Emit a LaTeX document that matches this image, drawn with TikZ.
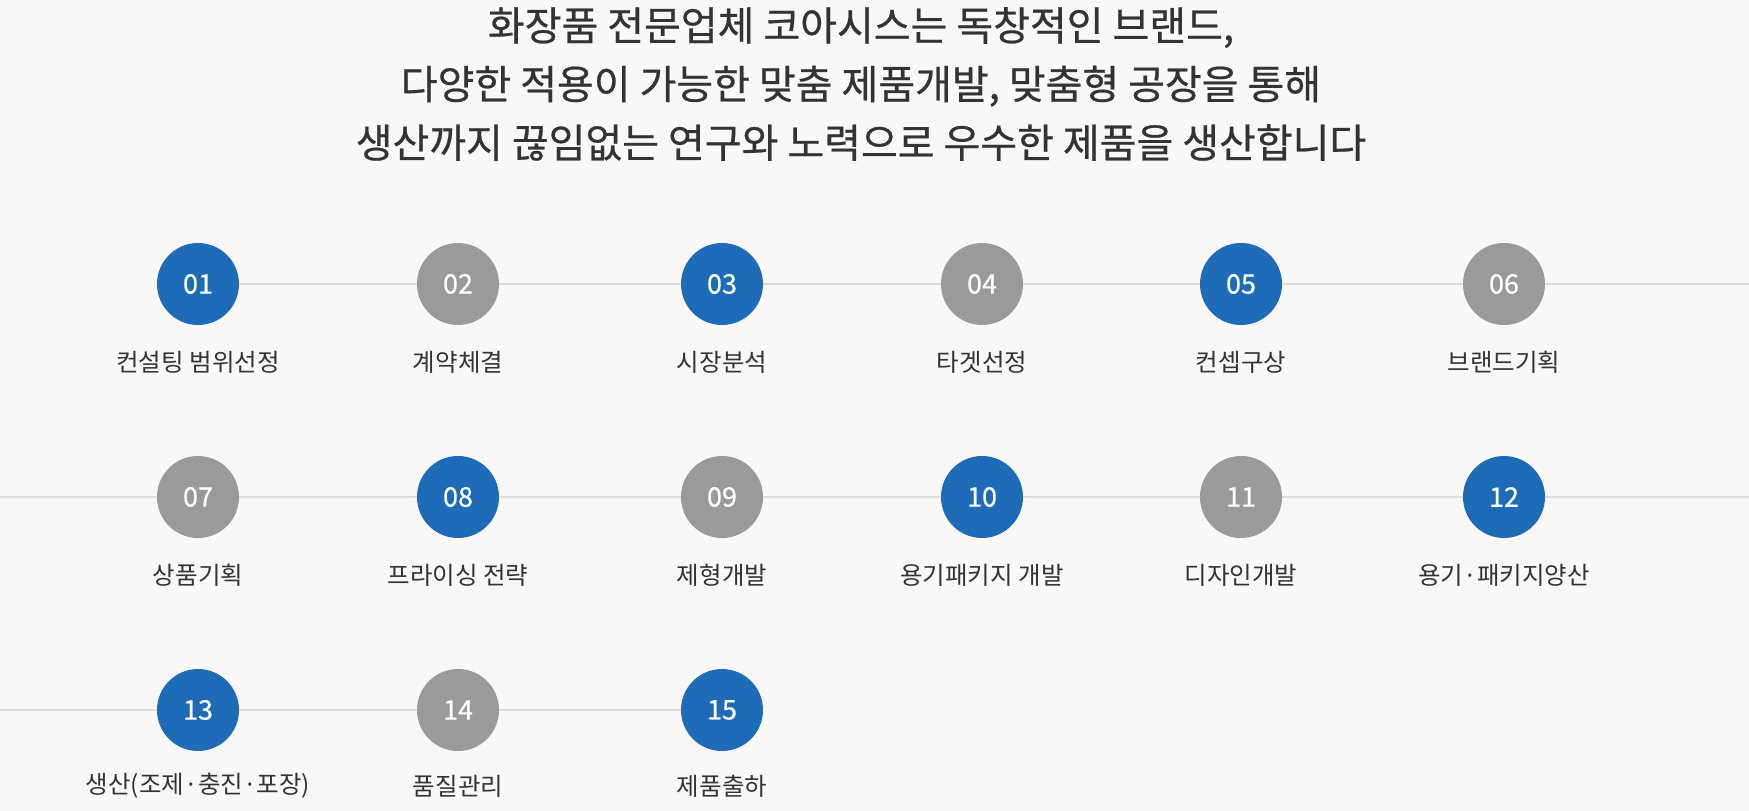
\documentclass[tikz,border=0pt]{standalone}
\usepackage{fontspec}
\setmainfont{Noto Sans CJK KR}
\newfontfamily\krfont{Noto Sans CJK KR}
\newfontfamily\krnum[FakeBold=0.4]{Noto Sans CJK KR}
\newfontfamily\krtitle[FakeBold=0.6]{Noto Sans CJK KR}
\definecolor{bgc}{HTML}{F9F8F7}
\definecolor{bluec}{HTML}{1E6BB8}
\definecolor{grayc}{HTML}{9A9A9A}
\definecolor{linec}{HTML}{DDDDDD}
\definecolor{txtc}{HTML}{333333}
\begin{document}
\begin{tikzpicture}[x=1pt,y=-1pt,
  stepnum/.style={circle,minimum size=82pt,inner sep=0pt,text=white,font=\krnum\fontsize{27}{27}\selectfont},
  bluestep/.style={stepnum,fill=bluec},
  graystep/.style={stepnum,fill=grayc},
  steplabel/.style={text=txtc,font=\krfont\fontsize{24.5}{24.5}\selectfont,inner sep=0pt},
  conn/.style={draw=linec,line width=2pt},
  titletext/.style={text=txtc,font=\krtitle\fontsize{40}{58.6}\selectfont,align=center,inner sep=0pt}]
\fill[bgc] (0,0) rectangle (1749,811);
\useasboundingbox (0,0) rectangle (1749,811);
\node[titletext] (title) at (861,84) {화장품 전문업체 코아시스는 독창적인 브랜드,\\다양한 적용이 가능한 맞춤 제품개발, 맞춤형 공장을 통해\\생산까지 끊임없는 연구와 노력으로 우수한 제품을 생산합니다};
% row 1
\node[bluestep] (c1) at (198,284) {01};
\node[graystep] (c2) at (458,284) {02};
\node[bluestep] (c3) at (722,284) {03};
\node[graystep] (c4) at (982,284) {04};
\node[bluestep] (c5) at (1241,284) {05};
\node[graystep] (c6) at (1504,284) {06};
\coordinate (r1end) at (1749,284);
% row 2
\node[graystep] (c7) at (198,497) {07};
\node[bluestep] (c8) at (458,497) {08};
\node[graystep] (c9) at (722,497) {09};
\node[bluestep] (c10) at (982,497) {10};
\node[graystep] (c11) at (1241,497) {11};
\node[bluestep] (c12) at (1504,497) {12};
\coordinate (r2start) at (0,497);
\coordinate (r2end) at (1749,497);
% row 3
\node[bluestep] (c13) at (198,710) {13};
\node[graystep] (c14) at (458,710) {14};
\node[bluestep] (c15) at (722,710) {15};
\coordinate (r3start) at (0,710);
% connectors
\draw[conn] (c1) -- (c2);
\draw[conn] (c2) -- (c3);
\draw[conn] (c3) -- (c4);
\draw[conn] (c4) -- (c5);
\draw[conn] (c5) -- (c6);
\draw[conn] (c6) -- (r1end);
\draw[conn] (r2start) -- (c7);
\draw[conn] (c7) -- (c8);
\draw[conn] (c8) -- (c9);
\draw[conn] (c9) -- (c10);
\draw[conn] (c10) -- (c11);
\draw[conn] (c11) -- (c12);
\draw[conn] (c12) -- (r2end);
\draw[conn] (r3start) -- (c13);
\draw[conn] (c13) -- (c14);
\draw[conn] (c14) -- (c15);
% labels
\node[steplabel] (l1) at (198,362) {컨설팅 범위선정};
\node[steplabel] (l2) at (458,362) {계약체결};
\node[steplabel] (l3) at (722,362) {시장분석};
\node[steplabel] (l4) at (982,362) {타겟선정};
\node[steplabel] (l5) at (1241,362) {컨셉구상};
\node[steplabel] (l6) at (1504,362) {브랜드기획};
\node[steplabel] (l7) at (198,575) {상품기획};
\node[steplabel] (l8) at (458,575) {프라이싱 전략};
\node[steplabel] (l9) at (722,575) {제형개발};
\node[steplabel] (l10) at (982,575) {용기패키지 개발};
\node[steplabel] (l11) at (1241,575) {디자인개발};
\node[steplabel] (l12) at (1504,575) {용기·패키지양산};
\node[steplabel] (l13) at (198,786) {생산(조제·충진·포장)};
\node[steplabel] (l14) at (458,786) {품질관리};
\node[steplabel] (l15) at (722,786) {제품출하};
\end{tikzpicture}
\end{document}
